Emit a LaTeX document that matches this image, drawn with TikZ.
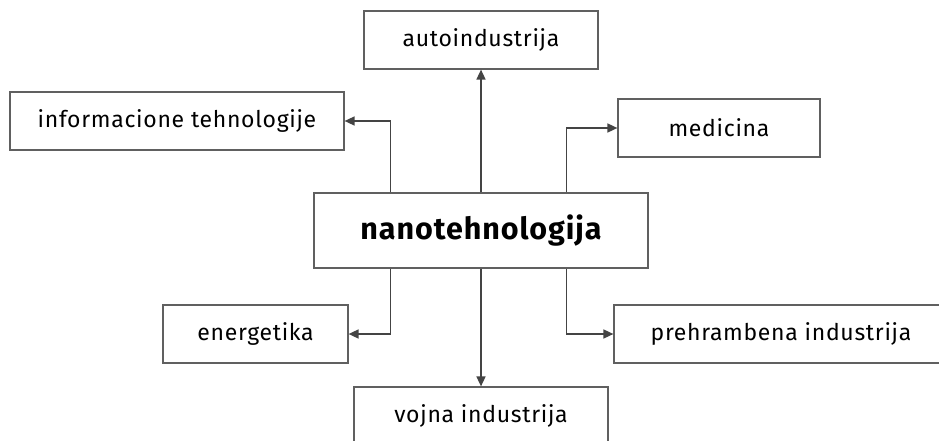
\documentclass[tikz,border=0pt]{standalone}
\usepackage{fontspec}
\setmainfont{Fira Sans}[LetterSpace=3]
\usetikzlibrary{arrows.meta}
\definecolor{boxline}{HTML}{606060}
\definecolor{arrline}{HTML}{444444}
\begin{document}
\begin{tikzpicture}[x=1pt,y=-1pt,
  box/.style={draw=boxline,line width=1.2pt,fill=white,minimum height=58pt,inner sep=0pt,font=\fontsize{23}{26}\selectfont,text=black},
  arr/.style={draw=arrline,line width=1.6pt,-{Triangle[length=10pt,width=9pt]}}]
\useasboundingbox (0,0) rectangle (939,441);
\node[box,minimum width=334pt,minimum height=75pt,font=\fontsize{30.5}{33}\bfseries\selectfont] (c) at (481,230.5) {nanotehnologija};
\node[box,minimum width=234pt] (auto) at (481,40) {autoindustrija};
\node[box,minimum width=334pt] (info) at (177,121) {informacione tehnologije};
\node[box,minimum width=202pt] (med) at (719,128) {medicina};
\node[box,minimum width=185pt] (ener) at (255.5,334) {energetika};
\node[box,minimum width=254pt] (voj) at (481,416) {vojna industrija};
\node[box,minimum width=334pt] (preh) at (781,334) {prehrambena industrija};
\draw[arr] (c.north) -- (auto.south);
\draw[arr] (c.south) -- (voj.north);
\draw[arr] ([xshift=77pt]c.north west) |- (info.east);
\draw[arr] ([xshift=-82pt]c.north east) |- (med.west);
\draw[arr] ([xshift=77pt]c.south west) |- (ener.east);
\draw[arr] ([xshift=-82pt]c.south east) |- (preh.west);
\end{tikzpicture}
\end{document}
